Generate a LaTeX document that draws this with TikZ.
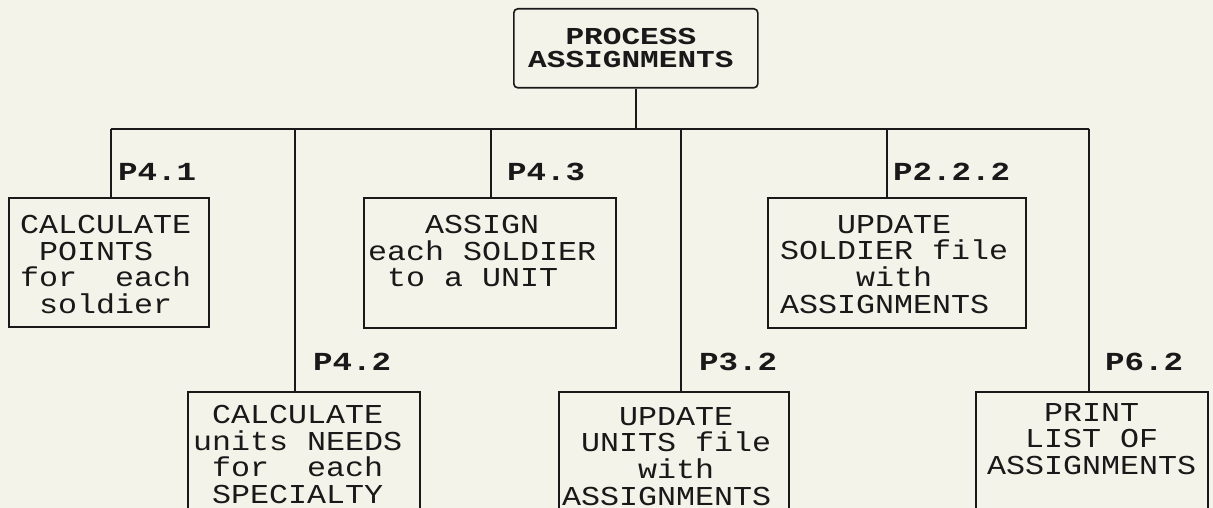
\documentclass[tikz,border=0pt]{standalone}
\usepackage{fontspec}
\newfontfamily\boxfont[FakeStretch=1.16]{Liberation Mono}
\newfontfamily\labfont[FakeStretch=1.25,UprightFont=* Bold]{Liberation Mono}
\newfontfamily\topfont[FakeStretch=1.28,UprightFont=* Bold]{Liberation Mono}
\newcommand\chsp{\hphantom{0}}
\definecolor{bg}{RGB}{244,243,233}
\definecolor{ink}{RGB}{25,25,25}
\tikzset{
  box/.style={draw=ink, line width=1.6pt, anchor=north west, inner sep=0pt},
  topbox/.style={box, rounded corners=4pt},
  wire/.style={draw=ink, line width=1.6pt},
  txt/.style={anchor=north west, inner sep=0pt, align=left, text=ink, font=\boxfont\fontsize{27.3}{26.7}\selectfont},
  lab/.style={anchor=north west, inner sep=0pt, text=ink, font=\labfont\fontsize{26}{26}\selectfont},
  toptxt/.style={txt, font=\topfont\fontsize{24.3}{23.5}\selectfont},
}
\begin{document}
\begin{tikzpicture}[x=1pt,y=-1pt]
\fill[bg] (0,0) rectangle (1213,508);
\useasboundingbox (0,0) rectangle (1213,508);
\clip (0,0) rectangle (1213,508);

% top box
\node[topbox, minimum width=244pt, minimum height=79pt] (top) at (513,8) {};
\node[toptxt] (ttop) at (528,28) {\chsp\chsp PROCESS\\ASSIGNMENTS};

% bus
\coordinate (busL) at (111,129);
\coordinate (busR) at (1089,129);
\coordinate (c41) at (111,129);
\coordinate (c42) at (295,129);
\coordinate (c43) at (491,129);
\coordinate (c32) at (681,129);
\coordinate (c222) at (887,129);
\coordinate (c62) at (1089,129);
\draw[wire] (busL) -- (busR);
\draw[wire] (top.south) -- (top.south |- busL);

% boxes
\node[box, minimum width=200pt, minimum height=129pt] (b41) at (8,197) {};
\node[box, minimum width=252pt, minimum height=130pt] (b43) at (363,197) {};
\node[box, minimum width=258pt, minimum height=130pt] (b222) at (767,197) {};
\node[box, minimum width=232pt, minimum height=130pt] (b42) at (187,391) {};
\node[box, minimum width=230pt, minimum height=130pt] (b32) at (558,391) {};
\node[box, minimum width=232pt, minimum height=130pt] (b62) at (975,391) {};

% drops
\draw[wire] (c41) -- (c41 |- b41.north);
\draw[wire] (c42) -- (c42 |- b42.north);
\draw[wire] (c43) -- (c43 |- b43.north);
\draw[wire] (c32) -- (c32 |- b32.north);
\draw[wire] (c222) -- (c222 |- b222.north);
\draw[wire] (c62) -- (c62 |- b62.north);

% labels
\node[lab] (l41) at (118,163) {P4.1};
\node[lab] (l43) at (507,163) {P4.3};
\node[lab] (l222) at (893,163) {P2.2.2};
\node[lab] (l42) at (313,353) {P4.2};
\node[lab] (l32) at (699,353) {P3.2};
\node[lab] (l62) at (1105,353) {P6.2};

% texts
\node[txt] (t41) at (20,215) {CALCULATE\\\chsp POINTS\\for\chsp\chsp each\\\chsp soldier};
\node[txt] (t43) at (368,215) {\chsp\chsp\chsp ASSIGN\\each\chsp SOLDIER\\\chsp to\chsp a\chsp UNIT};
\node[txt] (t222) at (780,215) {\chsp\chsp\chsp UPDATE\\SOLDIER\chsp file\\\chsp\chsp\chsp\chsp with\\ASSIGNMENTS};
\node[txt] (t42) at (193,405) {\chsp CALCULATE\\units\chsp NEEDS\\\chsp for\chsp\chsp each\\\chsp SPECIALTY};
\node[txt] (t32) at (562,407) {\chsp\chsp\chsp UPDATE\\\chsp UNITS\chsp file\\\chsp\chsp\chsp\chsp with\\ASSIGNMENTS};
\node[txt] (t62) at (987,403) {\chsp\chsp\chsp PRINT\\\chsp\chsp LIST\chsp OF\\ASSIGNMENTS};
\end{tikzpicture}
\end{document}
